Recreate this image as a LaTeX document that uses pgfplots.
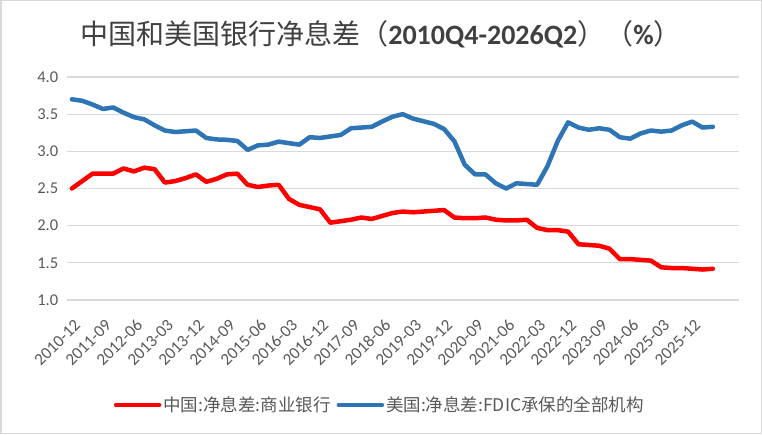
\documentclass[border=0pt]{standalone}
\usepackage{fontspec}
\usepackage{pgfplots}
\pgfplotsset{compat=1.18}
\usepackage{pgfplotstable}
\setmainfont{Carlito}
\newfontfamily\cjk{Noto Sans CJK SC}
\definecolor{cnred}{HTML}{FF0000}
\definecolor{usblue}{HTML}{2E75B6}
\definecolor{gridgray}{HTML}{D9D9D9}
\definecolor{txtgray}{HTML}{595959}
\definecolor{titlegray}{HTML}{404040}

\pgfplotstableread{
i cn us
0 2.50 3.70
1 2.60 3.68
2 2.70 3.63
3 2.70 3.57
4 2.70 3.59
5 2.77 3.52
6 2.73 3.46
7 2.78 3.43
8 2.76 3.35
9 2.58 3.28
10 2.60 3.26
11 2.64 3.27
12 2.69 3.28
13 2.59 3.18
14 2.63 3.16
15 2.69 3.155
16 2.70 3.14
17 2.55 3.02
18 2.52 3.08
19 2.54 3.09
20 2.55 3.13
21 2.36 3.11
22 2.28 3.09
23 2.25 3.19
24 2.22 3.18
25 2.04 3.20
26 2.06 3.22
27 2.08 3.31
28 2.11 3.32
29 2.09 3.33
30 2.13 3.40
31 2.17 3.465
32 2.19 3.50
33 2.18 3.44
34 2.19 3.405
35 2.20 3.37
36 2.21 3.30
37 2.11 3.135
38 2.10 2.82
39 2.10 2.69
40 2.11 2.69
41 2.08 2.57
42 2.07 2.50
43 2.07 2.57
44 2.08 2.56
45 1.97 2.55
46 1.94 2.80
47 1.94 3.14
48 1.92 3.39
49 1.75 3.32
50 1.74 3.29
51 1.73 3.31
52 1.69 3.29
53 1.55 3.19
54 1.55 3.17
55 1.54 3.24
56 1.53 3.28
57 1.44 3.265
58 1.43 3.28
59 1.43 3.35
60 1.42 3.40
61 1.41 3.32
62 1.42 3.33
}\datatable

\begin{document}
\begin{tikzpicture}
\useasboundingbox (0,0) rectangle (762pt,434pt);
\draw[gridgray, line width=1.5pt] (0.75pt,0.75pt) rectangle (761.25pt,433.25pt);
\node[text=titlegray, font=\fontsize{28}{31}\selectfont] at (381pt,400pt)
  {{\cjk 中国和美国银行净息差（}{\bfseries 2010Q4-2026Q2}{\cjk ）（}{\bfseries\%}{\cjk ）}};
\begin{axis}[
  at={(66.7pt,134pt)}, anchor=south west,
  scale only axis, width=672pt, height=223pt,
  xmin=-0.5, xmax=64.5, ymin=1, ymax=4,
  ytick={1,1.5,2,2.5,3,3.5,4},
  /pgf/number format/fixed, /pgf/number format/fixed zerofill,
  /pgf/number format/precision=1, /pgf/number format/assume math mode=true,
  yticklabel style={font=\fontsize{16.5}{19}\selectfont, text=txtgray, xshift=-5pt},
  xtick={0,3,...,60},
  xticklabels={2010-12,2011-09,2012-06,2013-03,2013-12,2014-09,2015-06,2016-03,2016-12,2017-09,2018-06,2019-03,2019-12,2020-09,2021-06,2022-03,2022-12,2023-09,2024-06,2025-03,2025-12},
  xticklabel style={xshift=8pt, yshift=-20pt, rotate=45, anchor=east, font=\fontsize{17}{20}\selectfont, text=txtgray},
  axis line style={draw=none},
  major tick length=0pt,
  ymajorgrids, grid style={gridgray, line width=1.3pt},
  legend style={at={(0.466,-0.471)}, anchor=center, draw=none, fill=none,
    font=\cjk\fontsize{17.5}{20}\selectfont, text=txtgray,
    /tikz/every even column/.append style={column sep=4pt}},
  legend columns=2,
  legend image code/.code={\draw[#1, line width=4.5pt] (0pt,0pt) -- (43pt,0pt);},
  clip=false,
]
\addplot[cnred, line width=4.5pt, line join=round, line cap=round] table[x=i, y=cn] {\datatable};
\addlegendentry{中国:净息差:商业银行}
\addplot[usblue, line width=4.5pt, line join=round, line cap=round] table[x=i, y=us] {\datatable};
\addlegendentry{美国:净息差:FDIC承保的全部机构}
\end{axis}
\end{tikzpicture}
\end{document}
